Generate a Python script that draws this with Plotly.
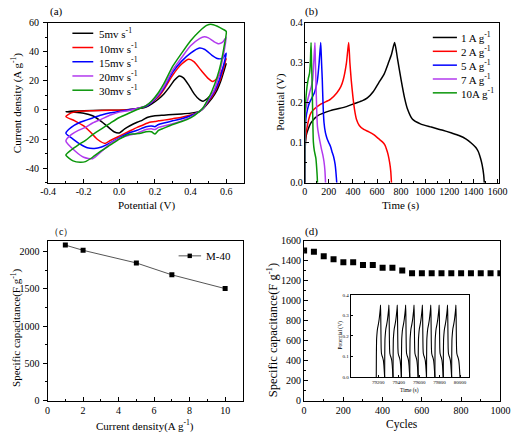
import plotly.graph_objects as go

W, H = 521, 439
FONT = "Liberation Serif"

# ---------------- (a) CV curves ----------------
CV_NAMES = ["5mv s<sup>-1</sup>", "10mv s<sup>-1</sup>", "15mv s<sup>-1</sup>",
            "20mv s<sup>-1</sup>", "30mv s<sup>-1</sup>"]
CV_COLORS = ["#000000", "#ff0000", "#0000ff", "#b23aee", "#0a960a"]

A_XTICKS = [-0.4, -0.2, 0.0, 0.2, 0.4, 0.6]
A_XLABELS = ["-0.4", "-0.2", "0.0", "0.2", "0.4", "0.6"]
A_YTICKS = [-40, -20, 0, 20, 40, 60]
A_YLABELS = ["-40", "-20", "0", "20", "40", "60"]

CV5_X = [-0.3, -0.25, -0.2, -0.1, 0.0, 0.1, 0.15, 0.18, 0.22, 0.25, 0.28, 0.31, 0.337, 0.36, 0.39, 0.42, 0.45, 0.47, 0.5, 0.55, 0.58, 0.6,
         0.57, 0.55, 0.52, 0.5, 0.47, 0.45, 0.4, 0.35, 0.3, 0.25, 0.2, 0.16, 0.13, 0.1, 0.03, 0.0, -0.03, -0.07, -0.1, -0.15, -0.2, -0.25, -0.3]
CV5_Y = [-1.3, -0.8, -0.5, -0.3, -0.2, 0.8, 2, 4, 7.5, 11, 15.5, 20.5, 23.3, 22, 17, 11, 7, 6, 8.5, 16, 24, 32,
         20, 14, 8, 5, 1, -1, -2.2, -2.8, -3.2, -3.6, -4, -5, -7, -8.5, -13, -15.8, -15, -11, -8, -4, -2.3, -1.6, -1.3]

CV10_X = [-0.3, -0.27, -0.23, -0.15, -0.05, 0.05, 0.1, 0.15, 0.18, 0.22, 0.25, 0.3, 0.35, 0.39, 0.42, 0.46, 0.5, 0.523, 0.55, 0.58, 0.6,
          0.57, 0.55, 0.52, 0.5, 0.47, 0.45, 0.4, 0.35, 0.3, 0.25, 0.22, 0.2, 0.17, 0.13, 0.1, 0.05, 0.0, -0.05, -0.08, -0.12, -0.16, -0.2, -0.25, -0.3]
CV10_Y = [-4.5, -2, -1, -0.6, -0.3, 0.2, 1, 2.5, 5, 9, 14, 24, 31.5, 34.8, 33, 27, 21.5, 19.6, 22, 28, 35.3,
          22, 16, 9, 6, 1, -1, -3.5, -5, -6, -7, -7.5, -8, -8.5, -10.5, -12, -15, -18, -21, -23, -20.5, -15.5, -11, -7.5, -4.5]

CV15_X = [-0.3, -0.27, -0.22, -0.15, -0.1, -0.05, 0.0, 0.05, 0.1, 0.15, 0.18, 0.22, 0.25, 0.3, 0.35, 0.4, 0.45, 0.48, 0.52, 0.55, 0.58, 0.6,
          0.57, 0.55, 0.52, 0.5, 0.47, 0.45, 0.4, 0.35, 0.3, 0.25, 0.22, 0.2, 0.18, 0.15, 0.1, 0.05, 0.0, -0.05, -0.1, -0.14, -0.18, -0.22, -0.26, -0.3]
CV15_Y = [-16, -12, -8.5, -5.5, -3.5, -2, -1, 0, 1, 2.5, 5, 10, 15, 26, 33.5, 39, 42.5, 41.5, 37.5, 35.3, 35.5, 39,
          24, 17, 10, 6.5, 1, -1, -4, -6, -7.5, -9, -10, -11.5, -11, -11.5, -14, -16, -19, -22.5, -25.5, -26.5, -26, -23.5, -20, -16]

CV20_X = [-0.3, -0.27, -0.23, -0.19, -0.15, -0.1, -0.05, 0.0, 0.05, 0.1, 0.15, 0.18, 0.22, 0.25, 0.3, 0.35, 0.4, 0.45, 0.477, 0.5, 0.53, 0.558, 0.58, 0.6,
          0.58, 0.56, 0.53, 0.5, 0.47, 0.45, 0.4, 0.35, 0.3, 0.25, 0.22, 0.2, 0.18, 0.15, 0.1, 0.05, 0.0, -0.05, -0.1, -0.15, -0.2, -0.25, -0.3]
CV20_Y = [-21.3, -17, -14, -12, -9, -6.3, -3.5, -1.5, -0.5, 1, 3, 5.5, 10.5, 16, 27.5, 36, 44, 49, 50.3, 49.5, 47, 45.4, 46.5, 49.9,
          35, 24, 13, 7, 1, -1, -5, -7.5, -9.5, -11, -12, -13.5, -13, -13.5, -16, -17.5, -19.5, -23, -28.5, -33.5, -32.5, -28, -21.3]

CV30_X = [-0.3, -0.27, -0.23, -0.19, -0.15, -0.1, -0.05, 0.0, 0.05, 0.1, 0.15, 0.18, 0.22, 0.25, 0.3, 0.35, 0.4, 0.45, 0.49, 0.514, 0.55, 0.58, 0.6,
          0.59, 0.57, 0.55, 0.52, 0.5, 0.47, 0.45, 0.4, 0.35, 0.3, 0.25, 0.22, 0.2, 0.18, 0.15, 0.12, 0.08, 0.05, 0.0, -0.05, -0.1, -0.15, -0.19, -0.22, -0.26, -0.3]
CV30_Y = [-31, -27.5, -24, -20.9, -17, -13, -9, -5.2, -2.5, 0.3, 3, 6, 12, 18, 30, 39, 47.5, 54, 58, 58.9, 57.5, 55.5, 53.9,
          45, 32, 23, 13, 8, 1.5, -1, -5.5, -8, -10, -12.5, -14, -16.5, -15, -15, -16, -16.5, -17, -20, -24, -28, -32.5, -35.5, -36, -35, -31]

CV_X = [CV5_X, CV10_X, CV15_X, CV20_X, CV30_X]
CV_Y = [CV5_Y, CV10_Y, CV15_Y, CV20_Y, CV30_Y]

# ---------------- (b) GCD curves ----------------
GCD_NAMES = ["1 A g<sup>-1</sup>", "2 A g<sup>-1</sup>", "5 A g<sup>-1</sup>",
             "7 A g<sup>-1</sup>", "10A g<sup>-1</sup>"]
GCD1_T = [0, 3, 13, 30, 53, 106, 213, 346, 413, 480, 520, 570, 613, 660, 693, 720, 746,
          770, 800, 830, 853, 893, 960, 1050, 1146, 1220, 1280, 1340, 1386, 1420, 1440, 1460, 1472, 1485, 1490]
GCD1_V = [0, 0.08, 0.118, 0.135, 0.15, 0.167, 0.18, 0.19, 0.198, 0.205, 0.212, 0.228, 0.249, 0.272, 0.298, 0.32, 0.35,
          0.31, 0.257, 0.21, 0.184, 0.159, 0.147, 0.139, 0.131, 0.124, 0.118, 0.109, 0.098, 0.088, 0.078, 0.06, 0.045, 0.02, 0]
GCD2_T = [0, 3, 15, 53, 133, 213, 266, 300, 320, 346, 365,
          375, 386, 400, 413, 430, 453, 490, 533, 573, 613, 645, 666, 683, 693, 705, 714, 720]
GCD2_V = [0, 0.09, 0.13, 0.175, 0.196, 0.208, 0.224, 0.24, 0.257, 0.298, 0.35,
          0.3, 0.257, 0.215, 0.184, 0.158, 0.143, 0.133, 0.127, 0.12, 0.11, 0.102, 0.094, 0.08, 0.069, 0.05, 0.029, 0]
GCD5_T = [0, 2, 10, 25, 40, 60, 80, 95, 106, 120, 133,
          140, 146, 152, 160, 172, 186, 200, 215, 226, 240, 253, 261, 266]
GCD5_V = [0, 0.1, 0.16, 0.185, 0.2, 0.212, 0.224, 0.24, 0.257, 0.3, 0.35,
          0.3, 0.257, 0.2, 0.151, 0.125, 0.11, 0.1, 0.09, 0.078, 0.065, 0.045, 0.02, 0]
GCD7_T = [0, 2, 8, 20, 40, 55, 66, 75, 85,
          89, 93, 100, 106, 112, 125, 138, 150, 160, 168, 173]
GCD7_V = [0, 0.12, 0.18, 0.2, 0.224, 0.24, 0.257, 0.3, 0.35,
          0.3, 0.257, 0.18, 0.14, 0.127, 0.105, 0.086, 0.07, 0.053, 0.03, 0]
GCD10_T = [0, 1, 4, 10, 20, 30, 40, 47, 53,
           57, 61, 66, 72, 80, 93, 100, 104, 106]
GCD10_V = [0, 0.12, 0.18, 0.21, 0.241, 0.26, 0.273, 0.3, 0.35,
           0.3, 0.257, 0.18, 0.102, 0.08, 0.061, 0.035, 0.015, 0]
GCD_T = [GCD1_T, GCD2_T, GCD5_T, GCD7_T, GCD10_T]
GCD_V = [GCD1_V, GCD2_V, GCD5_V, GCD7_V, GCD10_V]

# ---------------- (c) rate capability ----------------
RATE_NAME = "M-40"
RATE_I = [1, 2, 5, 7, 10]
RATE_C = [2090, 2020, 1850, 1690, 1505]

# ---------------- (d) cycling ----------------
CYC_N = [0, 50, 100, 150, 200, 250, 300, 350, 400, 450, 500, 550, 600, 650, 700, 750, 800, 850, 900, 950, 1000]
CYC_C = [1502, 1488, 1444, 1415, 1385, 1385, 1357, 1357, 1328, 1328, 1300, 1273, 1273, 1273, 1273, 1273, 1273, 1273, 1273, 1273, 1273]

# inset: one charge/discharge profile (relative time, V) and the cycle start times
INSET_PROFILE_T = [0, 1, 3, 6, 12, 20, 28, 35, 40, 42, 44, 46, 48, 51, 56, 63, 70, 75, 79, 82]
INSET_PROFILE_V = [0, 0.1, 0.18, 0.205, 0.235, 0.255, 0.28, 0.31, 0.335, 0.35, 0.3, 0.21, 0.14, 0.115, 0.105, 0.095, 0.08, 0.055, 0.025, 0]
INSET_STARTS = [79180, 79262, 79344, 79426, 79508, 79590, 79672, 79754, 79836, 79918]
INSET_XTICKS = [79200, 79400, 79600, 79800, 80000]


def px(x):
    return x / W


def py(y):
    return 1 - y / H


fig = go.Figure()

for i in range(5):
    fig.add_trace(go.Scatter(x=CV_X[i], y=CV_Y[i], mode="lines", name=CV_NAMES[i],
                             line=dict(color=CV_COLORS[i], width=1.5, shape="spline", smoothing=0.6),
                             xaxis="x", yaxis="y", showlegend=False))
for i in range(5):
    fig.add_trace(go.Scatter(x=GCD_T[i], y=GCD_V[i], mode="lines", name=GCD_NAMES[i],
                             line=dict(color=CV_COLORS[i], width=1.5, shape="spline", smoothing=0.6),
                             xaxis="x2", yaxis="y2", showlegend=False))
fig.add_trace(go.Scatter(x=RATE_I, y=RATE_C, mode="lines+markers", name=RATE_NAME,
                         line=dict(color="#555555", width=1),
                         marker=dict(symbol="square", size=5, color="black"),
                         xaxis="x3", yaxis="y3", showlegend=False))
fig.add_trace(go.Scatter(x=CYC_N, y=CYC_C, mode="markers",
                         marker=dict(symbol="square", size=6, color="black"),
                         xaxis="x4", yaxis="y4", showlegend=False))
for s in INSET_STARTS:
    fig.add_trace(go.Scatter(x=[s + t for t in INSET_PROFILE_T], y=INSET_PROFILE_V, mode="lines",
                             line=dict(color="black", width=1.1, shape="spline", smoothing=0.5),
                             xaxis="x5", yaxis="y5", showlegend=False))

tickfont = dict(family=FONT, size=10, color="black")
common = dict(showline=True, mirror=True, linecolor="black", linewidth=1,
              ticklen=4, tickwidth=1, tickcolor="black", showgrid=False, zeroline=False,
              tickfont=tickfont)


def ax(domain, rng, dtick, minor_dt, anchor, side_ticks, fmt=None, standoff=0, **kw):
    d = dict(common)
    d.update(domain=domain, range=rng, dtick=dtick, tick0=0, anchor=anchor, ticks=side_ticks,
             ticklabelstandoff=standoff,
             minor=dict(dtick=minor_dt, tick0=0, ticks=side_ticks, ticklen=2, tickcolor="black"))
    if fmt:
        d["tickformat"] = fmt
    d.update(kw)
    return d


AX_A = [px(41.5), px(244.5)]
AX_B = [px(307.3), px(508.3)]
AX_C = [px(41), px(243.3)]
AX_D = [px(306.7), px(510)]
AY_TOP = [py(182.3), py(18)]
AY_BOT = [py(405.7), py(241.7)]

fig.update_layout(
    width=W, height=H, margin=dict(l=0, r=0, t=0, b=0),
    paper_bgcolor="white", plot_bgcolor="white", showlegend=False,
    font=dict(family=FONT, color="black"),
    xaxis=ax(AX_A, [-0.4, 0.7], 0.2, 0.1, "y", "inside", None, -1,
             tickmode="array", tickvals=A_XTICKS, ticktext=A_XLABELS),
    yaxis=ax(AY_TOP, [-50, 60], 20, 10, "x", "outside", None, 2,
             tickmode="array", tickvals=A_YTICKS, ticktext=A_YLABELS),
    xaxis2=ax(AX_B, [0, 1610], 200, 100, "y2", "inside", None, -1),
    yaxis2=ax(AY_TOP, [0, 0.4], 0.1, 0.05, "x2", "inside", ".1f", -1),
    xaxis3=ax(AX_C, [0, 11], 2, 1, "y3", "inside", None, 0),
    yaxis3=ax(AY_BOT, [0, 2150], 500, 250, "x3", "outside", None, 1),
    xaxis4=ax(AX_D, [0, 1000], 200, 100, "y4", "inside", None, 0),
    yaxis4=ax(AY_BOT, [0, 1600], 200, 100, "x4", "inside", None, 0),
    xaxis5=dict(common, domain=[px(355), px(477.7)], range=[78930, 80090],
                tickmode="array", tickvals=INSET_XTICKS, ticktext=[str(v) for v in INSET_XTICKS],
                anchor="y5", ticks="inside", ticklen=2,
                tickfont=dict(family=FONT, size=5, color="black"), linewidth=0.8),
    yaxis5=dict(common, domain=[py(381.7), py(297.3)], range=[0, 0.4], dtick=0.1, tick0=0,
                anchor="x5", ticks="inside", ticklen=2, tickformat=".1f",
                tickfont=dict(family=FONT, size=5, color="black"), linewidth=0.8),
)

annotations = []
shapes = []


def text(x, y, s, size=11, angle=0, xanchor="center", yanchor="middle"):
    annotations.append(dict(x=px(x), y=py(y), xref="paper", yref="paper", text=s, showarrow=False,
                            textangle=angle, xanchor=xanchor, yanchor=yanchor,
                            font=dict(family=FONT, size=size, color="black")))


# panel labels
text(41, 7, "(a)", 11, xanchor="left")
text(306, 7, "(b)", 11, xanchor="left")
text(40, 232, "（c）", 10, xanchor="left")
text(306, 232, "(d)", 11, xanchor="left")

# axis titles
text(9, 100, "Current density (A g<sup>-1</sup>)", 11, -90)
text(143, 206, "Potential (V)", 11)
text(282, 100, "Potential (V)", 11, -90)
text(407, 206, "Time (s)", 11)
text(8.5, 331, "Specific capacitance(F g<sup>-1</sup>)", 11, -90)
text(142, 431, "Current density(A g<sup>-1</sup>)", 11)
text(273, 334, "Specific capacitance(F g<sup>-1</sup>)", 12.5, -90)
text(408, 430, "Cycles", 11.5)
text(344, 339, "Potential (V)", 5.5, -90)
text(416, 395, "Time (s)", 5.5)

# legend (a)
for i, name in enumerate(CV_NAMES):
    yy = 29 + 14.6 * i
    shapes.append(dict(type="line", xref="paper", yref="paper", x0=px(66.7), x1=px(88.3),
                       y0=py(yy), y1=py(yy), line=dict(color=CV_COLORS[i], width=1.5)))
    text(92, yy, name, 11, xanchor="left")

# legend (b)
for i, name in enumerate(GCD_NAMES):
    yy = 33.3 + 14.2 * i
    shapes.append(dict(type="line", xref="paper", yref="paper", x0=px(440), x1=px(465),
                       y0=py(yy), y1=py(yy), line=dict(color=CV_COLORS[i], width=1.5)))
    text(467, yy, name, 11, xanchor="left")

# legend (c)
shapes.append(dict(type="line", xref="paper", yref="paper", x0=px(176.7), x1=px(200),
                   y0=py(257.3), y1=py(257.3), line=dict(color="#555555", width=1)))
shapes.append(dict(type="rect", xref="paper", yref="paper", x0=px(186), x1=px(190.5),
                   y0=py(259.6), y1=py(255), fillcolor="black", line=dict(width=0)))
text(203, 257.3, RATE_NAME, 11, xanchor="left")

fig.update_layout(annotations=annotations, shapes=shapes)
fig.write_html("out.html", config={"displayModeBar": False},
               post_script="document.body.style.margin='0';")
